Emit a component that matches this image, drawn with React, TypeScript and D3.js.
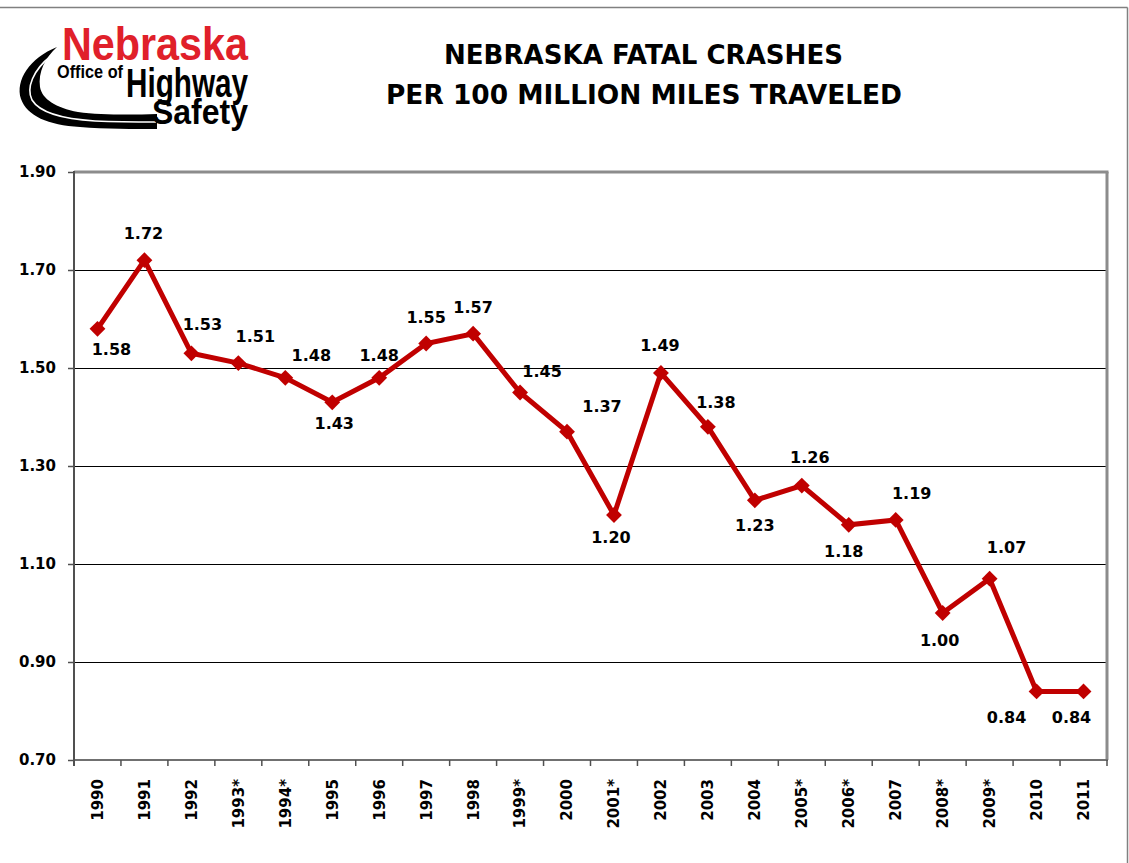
import React from "react";
import * as d3 from "d3";

const years = ["1990","1991","1992","1993*","1994*","1995","1996","1997","1998","1999*","2000","2001*","2002","2003","2004","2005*","2006*","2007","2008*","2009*","2010","2011"];
const rates = [1.58,1.72,1.53,1.51,1.48,1.43,1.48,1.55,1.57,1.45,1.37,1.20,1.49,1.38,1.23,1.26,1.18,1.19,1.00,1.07,0.84,0.84];
const yTicks = [0.7,0.9,1.1,1.3,1.5,1.7,1.9];
const titleLines = ["NEBRASKA FATAL CRASHES","PER 100 MILLION MILES TRAVELED"];

// label placement offsets (label center relative to marker), style only
const labelDx = [14,-1,11,17,26,2,0,0,0,22,35,-3,-1,8,0,8,-5,16,-3,17,-30,-12];
const labelDy = [20,-27,-29,-27,-23,21,-23,-27,-27,-22,-26,22,-28,-25,25,-29,26,-27,27,-32,26,26];

const W = 1129, H = 863;
const M = { left: 74, right: 1107, top: 172, bottom: 760 };
const RED = "#C00000";
const labelFont = "'Comic Sans MS','DejaVu Sans',sans-serif";
const axisFont = "Verdana,'DejaVu Sans',sans-serif";
const logoFont = "'Liberation Sans Narrow','Liberation Sans',Arial,sans-serif";

export default function App() {
  const x = d3.scaleBand<string>().domain(years).range([M.left, M.right]).paddingInner(0).paddingOuter(0);
  const y = d3.scaleLinear().domain([0.7, 1.9]).range([M.bottom, M.top]);
  const cx = (i: number) => (x(years[i]) as number) + x.bandwidth() / 2;
  const line = d3.line<number>().x((_, i) => cx(i)).y(d => y(d));
  const boundaries = d3.range(years.length + 1).map(i => M.left + i * x.bandwidth());
  const diamond = d3.symbol().type(d3.symbolDiamond2 ?? d3.symbolDiamond).size(160)();

  return (
    <svg width={W} height={H} style={{ position: "absolute", left: 0, top: 0, background: "#fff" }}>
      <rect x={0} y={0} width={W} height={H} fill="#fff" />
      {/* outer frame */}
      <line x1={0} x2={1127.5} y1={7.5} y2={7.5} stroke="#808080" strokeWidth={1.5} />
      <line x1={1127.5} x2={1127.5} y1={7.5} y2={H} stroke="#808080" strokeWidth={1.5} />

      {/* logo */}
      <g>
        <path d="M57 47 C 30 58, 15 80, 21 99 C 27 116, 48 125, 80 127 C 105 129, 135 129, 157 129 L 157 114 C 130 115, 100 115, 78 112 C 56 108, 42 99, 40 87 C 38 72, 45 58, 57 47 Z" fill="#000" />
        <path d="M51 56 C 33 70, 26 88, 32 100 C 40 113, 62 119, 95 121 C 120 122, 140 122, 156 122" fill="none" stroke="#fff" strokeWidth={1.6} />
        <text transform="translate(62,60) scale(1,1.35)" fontFamily={logoFont} fontWeight="bold" fontSize={34} fill="#E0202A" textLength={186} lengthAdjust="spacingAndGlyphs">Nebraska</text>
        <text transform="translate(57,78) scale(1,1.35)" fontFamily={logoFont} fontWeight="bold" fontSize={13} fill="#000" textLength={66} lengthAdjust="spacingAndGlyphs">Office of</text>
        <text transform="translate(126,97) scale(1,1.35)" fontFamily={logoFont} fontWeight="bold" fontSize={30} fill="#000" textLength={122} lengthAdjust="spacingAndGlyphs">Highway</text>
        <text transform="translate(152,124) scale(1,1.35)" fontFamily={logoFont} fontWeight="bold" fontSize={26} fill="#000" textLength={96} lengthAdjust="spacingAndGlyphs">Safety</text>
      </g>

      {/* title */}
      <text x={643.5} y={64} textAnchor="middle" fontFamily={labelFont} fontWeight="bold" fontSize={26} textLength={399} lengthAdjust="spacingAndGlyphs">{titleLines[0]}</text>
      <text x={644} y={104} textAnchor="middle" fontFamily={labelFont} fontWeight="bold" fontSize={26} textLength={516} lengthAdjust="spacingAndGlyphs">{titleLines[1]}</text>

      {/* gridlines */}
      {yTicks.slice(1, -1).map(t => (
        <line key={t} x1={M.left} x2={M.right} y1={Math.round(y(t)) + 0.5} y2={Math.round(y(t)) + 0.5} stroke="#000" strokeWidth={1} />
      ))}
      {/* plot border top/right */}
      <line x1={M.left} x2={M.right + 1.5} y1={M.top} y2={M.top} stroke="#8c8c8c" strokeWidth={3} />
      <line x1={M.right} x2={M.right} y1={M.top} y2={M.bottom} stroke="#8c8c8c" strokeWidth={3} />
      {/* axes */}
      <line x1={M.left} x2={M.right + 1} y1={M.bottom} y2={M.bottom} stroke="#707070" strokeWidth={2} />
      <line x1={M.left} x2={M.left} y1={M.top - 1} y2={M.bottom + 6} stroke="#505050" strokeWidth={2} />
      {yTicks.map(t => (
        <g key={t}>
          <line x1={M.left - 6} x2={M.left} y1={Math.round(y(t)) + 0.5} y2={Math.round(y(t)) + 0.5} stroke="#505050" strokeWidth={1.5} />
          <text x={56} y={y(t) + 5} textAnchor="end" fontFamily={axisFont} fontWeight="bold" fontSize={15}>{d3.format(".2f")(t)}</text>
        </g>
      ))}
      {boundaries.map((b, i) => (
        <line key={i} x1={b} x2={b} y1={M.bottom} y2={M.bottom + 6} stroke="#505050" strokeWidth={1.5} />
      ))}
      {years.map((yr, i) => (
        <text key={yr} transform={`translate(${cx(i)},779) rotate(-90)`} textAnchor="end" dy="0.36em" fontFamily={axisFont} fontWeight="bold" fontSize={15}>{yr}</text>
      ))}

      {/* series */}
      <path d={line(rates) || ""} fill="none" stroke={RED} strokeWidth={5} strokeLinejoin="miter" />
      {rates.map((r, i) => (
        <path key={i} d={diamond || ""} transform={`translate(${cx(i)},${y(r)})`} fill={RED} />
      ))}
      {rates.map((r, i) => (
        <text key={i} x={cx(i) + labelDx[i]} y={y(r) + labelDy[i] + 6} textAnchor="middle" fontFamily={labelFont} fontWeight="bold" fontSize={16}>{d3.format(".2f")(r)}</text>
      ))}
    </svg>
  );
}
